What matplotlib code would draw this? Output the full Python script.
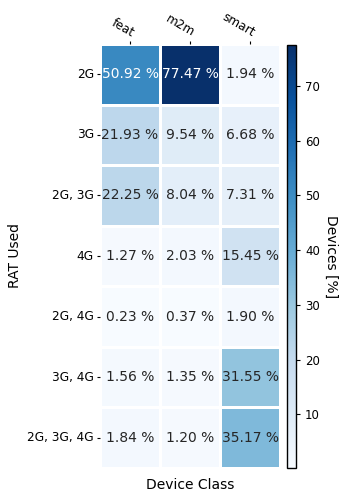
import numpy as np
import pandas as pd
import matplotlib
matplotlib.use("Agg")
import matplotlib.pyplot as plt
import seaborn as sns

# Datos del heatmap
rat = ["2G", "3G", "2G, 3G", "4G", "2G, 4G", "3G, 4G", "2G, 3G, 4G"]
clases = ["feat", "m2m", "smart"]
feat = [50.92, 21.93, 22.25, 1.27, 0.23, 1.56, 1.84]
m2m = [77.47, 9.54, 8.04, 2.03, 0.37, 1.35, 1.20]
smart = [1.94, 6.68, 7.31, 15.45, 1.90, 31.55, 35.17]

df = pd.DataFrame({"feat": feat, "m2m": m2m, "smart": smart}, index=rat)[clases]

fig = plt.figure(figsize=(3.46, 5.0), dpi=100)
ax = fig.add_axes([100 / 346, 32 / 500, 180 / 346, 424 / 500])
cax = fig.add_axes([287 / 346, 32 / 500, 9 / 346, 423 / 500])

sns.heatmap(df, ax=ax, cbar_ax=cax, cmap="Blues", annot=True, fmt=".2f",
            linewidths=2, linecolor="white", annot_kws={"fontsize": 10})
for t in ax.texts:
    t.set_text(t.get_text() + " %")

ax.xaxis.tick_top()
ax.tick_params(axis="y", length=2.5, pad=2)
ax.tick_params(axis="x", length=2.5, pad=1)
plt.setp(ax.get_xticklabels(), rotation=-30, ha="right", rotation_mode="anchor", fontsize=8.7)
plt.setp(ax.get_yticklabels(), rotation=0, fontsize=8.7)
ax.set_xlabel("Device Class", fontsize=10, labelpad=7)
ax.set_ylabel("RAT Used", fontsize=10)

cb = ax.collections[0].colorbar
cb.ax.tick_params(labelsize=8.5, length=3)
cb.set_label("Devices [%]", rotation=270, labelpad=13, fontsize=10)
cb.outline.set_visible(True)
cb.outline.set_linewidth(1)

fig.savefig("out.png", dpi=100)
plt.close()
